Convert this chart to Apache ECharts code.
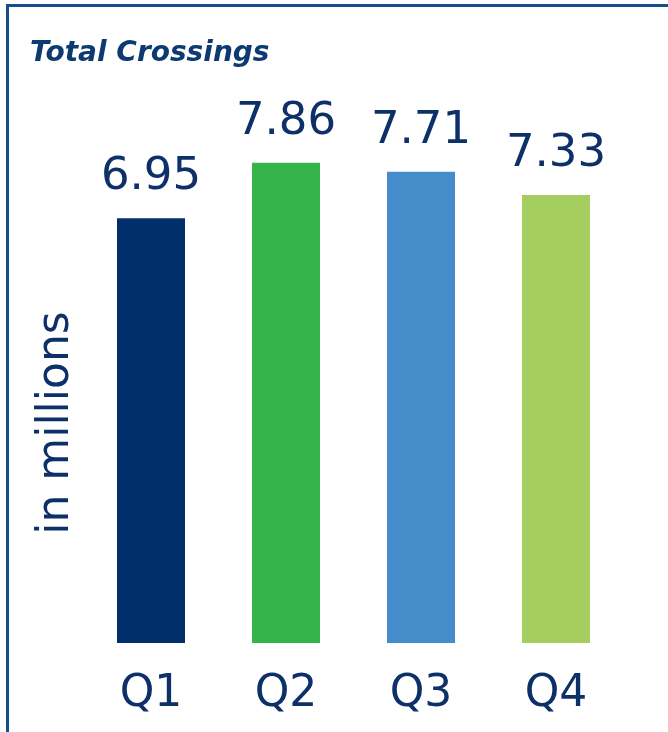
<!DOCTYPE html>
<html>
<head>
<meta charset="utf-8">
<script src="https://cdn.jsdelivr.net/npm/echarts@6/dist/echarts.min.js"></script>
<style>
  html, body { margin: 0; padding: 0; background: #ffffff; }
  #chart { width: 668px; height: 732px; position: absolute; left: 0; top: 0; }
  #frame { position: absolute; left: 6px; top: 4px; width: 662px; height: 728px;
           border-left: 3px solid #154c8a; border-top: 3px solid #154c8a;
           box-sizing: border-box; pointer-events: none; }
</style>
</head>
<body>
<div id="chart"></div>
<div id="frame"></div>
<script>
const categories = ['Q1', 'Q2', 'Q3', 'Q4'];
const values = [6.95, 7.86, 7.71, 7.33];
const barColors = ['#002f6c', '#34b44a', '#458ccb', '#a4cf60'];
const titleText = 'Total Crossings';
const unitText = 'in millions';

const textColor = '#0d3069';
const chart = echarts.init(document.getElementById('chart'));
chart.setOption({
  animation: false,
  backgroundColor: '#ffffff',
  title: {
    text: titleText,
    left: 25,
    top: 35,
    textStyle: {
      fontFamily: 'DejaVu Sans',
      fontSize: 28,
      fontWeight: 'bold',
      fontStyle: 'italic',
      color: '#0d3a72'
    }
  },
  graphic: [{
    type: 'text',
    x: 57,
    y: 423,
    rotation: Math.PI / 2,
    style: {
      text: unitText,
      fontFamily: 'DejaVu Sans',
      fontSize: 44,
      fill: textColor,
      align: 'center',
      verticalAlign: 'middle'
    }
  }],
  grid: { left: 83.5, right: 44.5, top: 93, bottom: 89 },
  xAxis: {
    type: 'category',
    data: categories,
    axisLine: { show: false },
    axisTick: { show: false },
    axisLabel: {
      margin: 30,
      fontFamily: 'DejaVu Sans',
      fontSize: 44,
      color: textColor
    }
  },
  yAxis: {
    type: 'value',
    min: 0,
    max: 9,
    axisLine: { show: false },
    axisTick: { show: false },
    axisLabel: { show: false },
    splitLine: { show: false }
  },
  series: [{
    type: 'bar',
    barWidth: 68,
    data: values.map((v, i) => ({ value: v, itemStyle: { color: barColors[i] } })),
    label: {
      show: true,
      position: 'top',
      distance: 18,
      fontFamily: 'DejaVu Sans',
      fontSize: 45,
      color: textColor,
      formatter: p => p.value.toFixed(2)
    }
  }]
});
</script>
</body>
</html>
